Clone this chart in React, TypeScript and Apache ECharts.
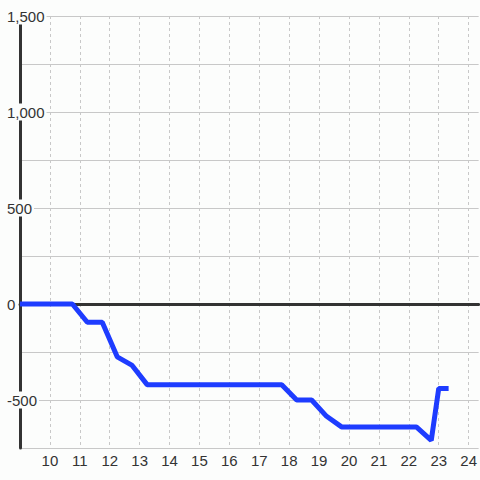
import React, { useEffect, useRef } from "react";
import * as echarts from "echarts";

const xValues = [9, 10.75, 11.25, 11.75, 12.25, 12.75, 13.25, 17.75, 18.25, 18.75, 19.25, 19.75, 22.25, 22.75, 23, 23.33];
const yValues = [0, 0, -95, -95, -275, -320, -420, -420, -500, -500, -585, -640, -640, -710, -440, -440];
const xRange = [9, 24.333];
const yRange = [-750, 1500];

const BG = "#fcfdfc";
const FONT = "'Liberation Sans', Arial, sans-serif";

export default function App() {
  const ref = useRef<HTMLDivElement>(null);
  useEffect(() => {
    if (!ref.current) return;
    const chart = echarts.init(ref.current, undefined, { renderer: "svg" });
    const data = xValues.map((x, i) => [x, yValues[i]]);
    chart.setOption({
      animation: false,
      backgroundColor: BG,
      grid: { left: 20, right: 0, top: 16, bottom: 32, containLabel: false },
      xAxis: [
        {
          type: "value",
          min: xRange[0],
          max: xRange[1],
          interval: 1,
          position: "bottom",
          axisLine: { show: false },
          axisTick: { show: false },
          axisLabel: {
            showMinLabel: false,
            showMaxLabel: false,
            color: "#333",
            fontSize: 15,
            fontFamily: FONT,
            margin: 5,
          },
          splitLine: {
            show: true,
            showMaxLine: false,
            lineStyle: { color: "#c8c8c8", type: [3, 3], width: 1 },
          },
        },
        {
          type: "value",
          min: xRange[0],
          max: xRange[1],
          position: "bottom",
          axisLine: { show: true, onZero: true, onZeroAxisIndex: 0, lineStyle: { color: "#333", width: 3 } },
          axisTick: { show: false },
          axisLabel: { show: false },
          splitLine: { show: false },
        },
      ],
      yAxis: {
        type: "value",
        min: yRange[0],
        max: yRange[1],
        interval: 250,
        axisLine: { show: true, lineStyle: { color: "#333", width: 3 } },
        axisTick: { show: false },
        axisLabel: {
          align: "left",
          margin: 15,
          color: "#333",
          fontSize: 15,
          fontFamily: FONT,
          backgroundColor: BG,
          padding: [1, 2, 1, 2],
          formatter: (v: number) => (v % 500 === 0 ? v.toLocaleString("en-US") : ""),
        },
        splitLine: { show: true, lineStyle: { color: "#c8c8c8", width: 1 } },
      },
      series: [
        {
          type: "line",
          data,
          xAxisIndex: 0,
          yAxisIndex: 0,
          showSymbol: false,
          symbol: "none",
          lineStyle: { color: "#1e3cff", width: 5 },
        },
      ],
    });
    return () => chart.dispose();
  }, []);
  return (
    <div
      ref={ref}
      style={{ position: "absolute", left: 0, top: 0, width: 480, height: 480 }}
    />
  );
}
